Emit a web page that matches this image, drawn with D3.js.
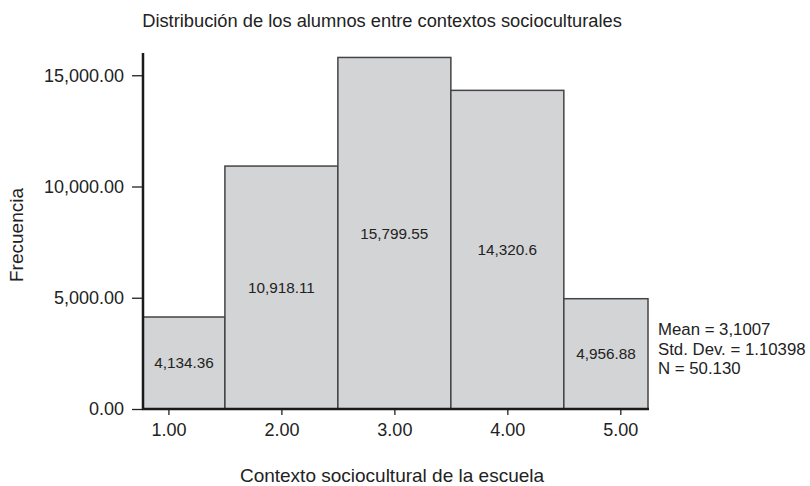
<!DOCTYPE html>
<html>
<head>
<meta charset="utf-8">
<script src="https://cdn.jsdelivr.net/npm/d3@7"></script>
<style>
    body { margin: 0; background: #fff; }
    text { font-family: "Liberation Sans", Arial, sans-serif; fill: #222; }
    .bar { fill: #d3d4d6; stroke: #444; stroke-width: 1.5; }
</style>
</head>
<body>
<svg id="chart" width="810" height="486"></svg>
<script>
const categories = [1, 2, 3, 4, 5];
const frequencies = [4134.36, 10918.11, 15799.55, 14320.6, 4956.88];
const barLabels = ["4,134.36", "10,918.11", "15,799.55", "14,320.6", "4,956.88"];
const yTicks = [0, 5000, 10000, 15000];
const xTicks = [1, 2, 3, 4, 5];
const statsLines = ["Mean = 3,1007", "Std. Dev. = 1.10398", "N = 50.130"];

const svg = d3.select("#chart");
const xMin = 0.775, xMax = 5.245;
const xScale = d3.scaleLinear().domain([xMin, xMax]).range([143, 648]);
const yScale = d3.scaleLinear().domain([0, 16000]).range([409, 53]);

// title
svg.append("text")
    .attr("x", 382)
    .attr("y", 27)
    .attr("text-anchor", "middle")
    .attr("font-size", "18.3px")
    .text("Distribución de los alumnos entre contextos socioculturales");

// bars (clipped to the axis range, like the original)
const bars = categories.map((c, i) => ({
    x0: Math.max(xMin, c - 0.5),
    x1: Math.min(xMax, c + 0.5),
    value: frequencies[i],
    label: barLabels[i]
}));

svg.selectAll(".bar")
    .data(bars)
    .enter().append("rect")
    .attr("class", "bar")
    .attr("x", d => xScale(d.x0))
    .attr("y", d => yScale(d.value))
    .attr("width", d => xScale(d.x1) - xScale(d.x0))
    .attr("height", d => yScale(0) - yScale(d.value));

svg.selectAll(".bar-label")
    .data(bars)
    .enter().append("text")
    .attr("class", "bar-label")
    .attr("x", d => (xScale(d.x0) + xScale(d.x1)) / 2)
    .attr("y", d => (yScale(d.value) + yScale(0)) / 2)
    .attr("dy", "0.35em")
    .attr("text-anchor", "middle")
    .attr("font-size", "15.3px")
    .text(d => d.label);

// y axis
const yAxis = svg.append("g")
    .attr("transform", "translate(143,0)")
    .call(d3.axisLeft(yScale).tickValues(yTicks).tickSize(11).tickPadding(8)
        .tickFormat(d3.format(",.2f")));
yAxis.select(".domain").remove();
yAxis.selectAll(".tick line").attr("stroke", "#222").attr("stroke-width", 1.3);
yAxis.selectAll(".tick text").attr("font-size", "18px").attr("font-family", "Liberation Sans, Arial, sans-serif").attr("fill", "#222");
svg.append("line")
    .attr("x1", 143).attr("x2", 143)
    .attr("y1", yScale(16000)).attr("y2", yScale(0) + 1)
    .attr("stroke", "#1a1a1a").attr("stroke-width", 2.5);

// x axis
const xAxis = svg.append("g")
    .attr("transform", "translate(0,409)")
    .call(d3.axisBottom(xScale).tickValues(xTicks).tickSize(6).tickPadding(8)
        .tickFormat(d3.format(".2f")));
xAxis.select(".domain").remove();
xAxis.selectAll(".tick line").attr("stroke", "#222").attr("stroke-width", 1.3);
xAxis.selectAll(".tick text").attr("font-size", "18px").attr("font-family", "Liberation Sans, Arial, sans-serif").attr("fill", "#222");
svg.append("line")
    .attr("x1", 142).attr("x2", 649)
    .attr("y1", 409).attr("y2", 409)
    .attr("stroke", "#1a1a1a").attr("stroke-width", 2.5);

// axis titles
svg.append("text")
    .attr("x", 392)
    .attr("y", 482)
    .attr("text-anchor", "middle")
    .attr("font-size", "19px")
    .text("Contexto sociocultural de la escuela");

svg.append("text")
    .attr("transform", "translate(23,235) rotate(-90)")
    .attr("text-anchor", "middle")
    .attr("font-size", "19px")
    .text("Frecuencia");

// stats box
svg.append("g")
    .selectAll("text")
    .data(statsLines)
    .enter().append("text")
    .attr("x", 658)
    .attr("y", (d, i) => 335 + i * 19.5)
    .attr("font-size", "16.8px")
    .text(d => d);
</script>
</body>
</html>
